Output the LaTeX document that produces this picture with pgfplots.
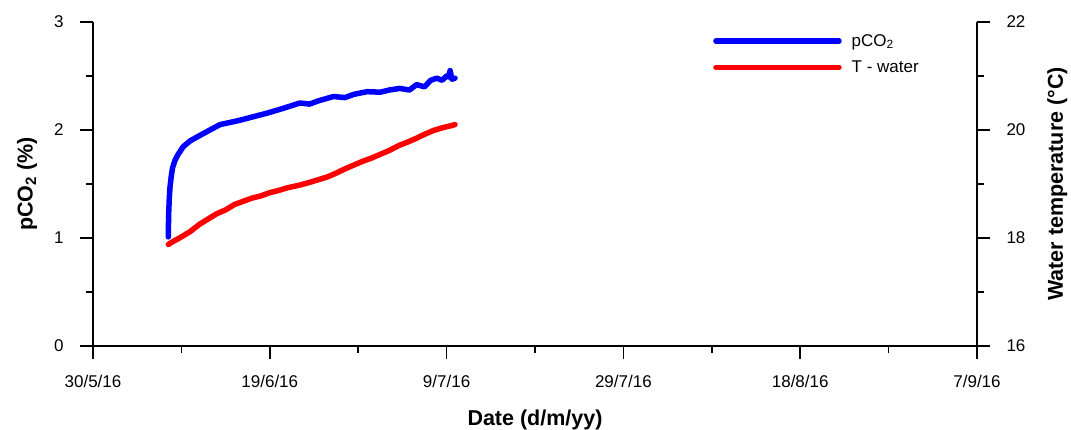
\documentclass[border=0pt]{standalone}
\usepackage{fontspec}
\setmainfont{Liberation Sans}
\usepackage{pgfplots}
\pgfplotsset{compat=1.18}
\begin{document}
\begin{tikzpicture}
\pgfplotsset{
  common/.style={
    scale only axis, width=884pt, height=324pt,
    xmin=0, xmax=100,
    tick align=outside,
    major tick length=13pt, minor tick length=7pt,
    every tick/.style={black, line width=1.6pt},
    axis line style={-, line width=1.6pt},
    /pgf/number format/assume math mode=true,
    tick label style={font=\fontsize{17}{17}\selectfont},
    xticklabel shift=13pt, yticklabel shift=13pt,
    label style={font=\fontsize{21.5}{21.5}\selectfont\bfseries},
    clip=false,
  }
}
\begin{axis}[common, name=ax,
  ymin=0, ymax=3,
  axis x line*=bottom, axis y line*=left,
  xtick={0,20,40,60,80,100},
  xticklabels={30/5/16,19/6/16,9/7/16,29/7/16,18/8/16,7/9/16},
  minor xtick={10,30,50,70,90},
  ytick={0,1,2,3}, minor ytick={0.5,1.5,2.5},
  xlabel={Date (d/m/yy)}, ylabel={pCO\textsubscript{2} (\%)},
  xlabel shift=15pt, ylabel shift=10pt,
]
\addplot[blue, line width=5.5pt, line join=round, line cap=round] coordinates {
(8.52,1.01) (8.55,1.20) (8.62,1.35) (8.71,1.47) (8.85,1.57) (9.0,1.65)
(9.28,1.72) (9.6,1.77) (10.2,1.845) (11.0,1.90) (12.1,1.95) (13.0,1.99)
(14.37,2.05) (15.5,2.07) (16.6,2.09) (18.0,2.12) (19.65,2.155) (21.5,2.20)
(23.4,2.25) (24.5,2.24) (25.5,2.27) (27.2,2.31) (28.5,2.30) (29.5,2.33)
(31.0,2.355) (32.5,2.35) (33.5,2.37) (34.7,2.385) (35.8,2.37) (36.6,2.42)
(37.5,2.40) (38.2,2.46) (38.9,2.48) (39.5,2.46) (40.0,2.50) (40.2,2.49)
(40.4,2.55) (40.6,2.47) (40.95,2.48)
};
\end{axis}
\begin{axis}[common,
  ymin=16, ymax=22,
  axis x line=none, axis y line*=right,
  ytick={16,18,20,22}, minor ytick={17,19,21},
  ylabel={Water temperature (°C)}, ylabel shift=15pt,
  legend style={draw=none, fill=none, at={(0.698,0.975)}, anchor=north west,
    font=\fontsize{17}{17}\selectfont, row sep=9pt},
  legend cell align=left,
  legend image code/.code={\draw[#1, line cap=round] (0pt,0pt) -- (123pt,0pt);\path (131pt,0pt);},
]
\addlegendimage{blue, line width=5.5pt}
\addlegendentry{pCO\textsubscript{2}}
\addplot[red, line width=5.5pt, line join=round, line cap=round] coordinates {
(8.52,17.88) (9.0,17.93) (10.0,18.02) (11.0,18.12) (12.1,18.26) (13.0,18.35)
(14.0,18.45) (15.0,18.52) (16.0,18.62) (17.0,18.68) (18.0,18.74) (19.0,18.78)
(20.0,18.84) (21.0,18.88) (22.0,18.93) (23.4,18.98) (24.5,19.03) (25.5,19.08)
(26.5,19.13) (27.5,19.20) (28.5,19.28) (29.5,19.35) (30.5,19.42) (31.5,19.48)
(32.5,19.55) (33.5,19.62) (34.7,19.72) (35.5,19.77) (36.5,19.84) (37.5,19.92)
(38.5,19.99) (39.5,20.04) (40.5,20.08) (40.95,20.10)
};
\addlegendentry{T - water}
\end{axis}
\pgfresetboundingbox
\path ([shift={(-93pt,-84pt)}]ax.south west) rectangle ([shift={(94pt,22pt)}]ax.north east);
\end{tikzpicture}
\end{document}
